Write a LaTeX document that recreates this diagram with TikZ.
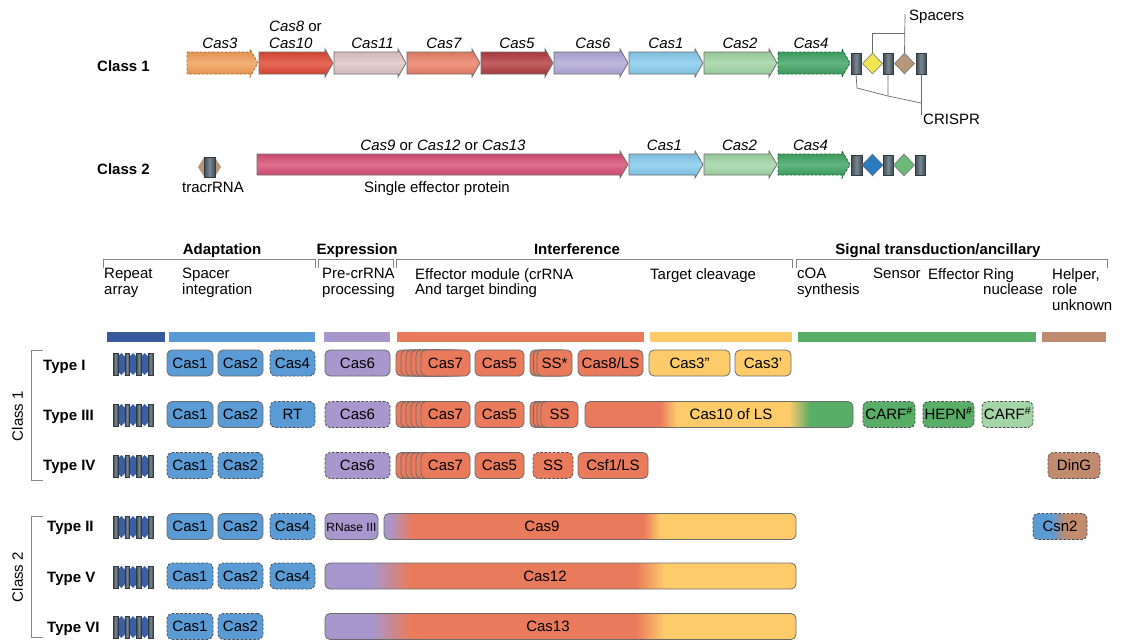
\documentclass[tikz,border=0pt]{standalone}
\usepackage{fontspec}
\setmainfont{Liberation Sans}
\usetikzlibrary{shapes.geometric}
\definecolor{cblue}{HTML}{5B9BD5}
\definecolor{cpurple}{HTML}{A897CC}
\definecolor{corange}{HTML}{E97B5C}
\definecolor{cyellow}{HTML}{FECB6B}
\definecolor{cgreen}{HTML}{58AD67}
\definecolor{clgreen}{HTML}{A5D4A6}
\definecolor{cbrown}{HTML}{C18B6F}
\definecolor{cdkblue}{HTML}{365A9C}
\definecolor{boxline}{HTML}{6B6B6B}
\definecolor{dashline}{HTML}{505050}
\definecolor{brkgray}{HTML}{858585}
\definecolor{leadgray}{HTML}{6A6A6A}
\definecolor{geneline}{HTML}{707070}
\definecolor{crdark}{HTML}{3F4B55}
\definecolor{crlight}{HTML}{7A8892}
\definecolor{crline}{HTML}{2F3A42}
\definecolor{a3}{HTML}{F09A50}
\definecolor{a8}{HTML}{DE3F2A}
\definecolor{a11}{HTML}{DFC2C2}
\definecolor{a7}{HTML}{E8785F}
\definecolor{a5}{HTML}{AE3236}
\definecolor{a6}{HTML}{ADA4D6}
\definecolor{a1}{HTML}{7FC8EC}
\definecolor{a2}{HTML}{9BD29E}
\definecolor{a4}{HTML}{35A05A}
\definecolor{apink}{HTML}{D5456F}
\definecolor{dyellow}{HTML}{F2E64F}
\definecolor{dbrown}{HTML}{B8967A}
\definecolor{dblue}{HTML}{2A7BC0}
\definecolor{dgreen}{HTML}{6DBA78}
\definecolor{hexblue}{HTML}{3A5FA5}
\pgfdeclarehorizontalshading{cas10sh}{100bp}{color(0bp)=(corange); color(39bp)=(corange); color(42bp)=(cyellow); color(63bp)=(cyellow); color(67bp)=(cgreen); color(100bp)=(cgreen)}
\pgfdeclarehorizontalshading{cas9sh}{100bp}{color(0bp)=(cpurple); color(25.5bp)=(cpurple); color(28.5bp)=(corange); color(56.5bp)=(corange); color(58.5bp)=(cyellow); color(100bp)=(cyellow)}
\pgfdeclarehorizontalshading{cas12sh}{100bp}{color(0bp)=(cpurple); color(30bp)=(cpurple); color(34bp)=(corange); color(58bp)=(corange); color(61bp)=(cyellow); color(100bp)=(cyellow)}
\pgfdeclarehorizontalshading{csn2sh}{100bp}{color(0bp)=(cblue); color(42bp)=(cblue); color(55bp)=(cbrown); color(100bp)=(cbrown)}
\newcommand\fs{\fontsize{15}{15.5}\selectfont}
\newcommand\gb[6]{\node[box,#2,minimum width={(#4)-(#3)}] (#1) at ({((#3)+(#4))/2},#5) {#6};}
\newcommand\garrow[6]{%
  \draw[#6] (#2,#4-#5) -- (#3-8,#4-#5) -- (#3-8,#4-#5-3) -- (#3,#4) -- (#3-8,#4+#5+3) -- (#3-8,#4+#5) -- (#2,#4+#5) -- cycle;
  \coordinate (#1) at ({((#2)+(#3))/2},#4);}
\newcommand\rarr[3]{%
  \begin{scope}[shift={(#2,#3)}]
    \foreach \k in {0,1,2}{\fill[hexblue] ({3.5+11.67*\k},-6) -- ({8.33+11.67*\k},-11) -- ({13.17+11.67*\k},-6) -- ({13.17+11.67*\k},6) -- ({8.33+11.67*\k},11) -- ({3.5+11.67*\k},6) -- cycle;}
    \foreach \k in {0,...,3}{\node[cr, minimum width=4.6pt, minimum height=22pt, inner sep=0pt] (#1\k) at ({2.5+11.67*\k},0) {};}
  \end{scope}}
\begin{document}
\begin{tikzpicture}[x=1pt,y=-1pt,
  lab/.style={inner sep=0pt, font=\fs},
  hdr/.style={inner sep=0pt, font=\fs\bfseries},
  box/.style={draw=boxline, line width=0.8pt, rounded corners=5pt, minimum height=26pt, inner sep=0pt, text height=10.7pt, text depth=0pt, font=\fs},
  dsh/.style={draw=dashline, dash pattern=on 2.6pt off 1.6pt},
  gene/.style={draw=geneline, line width=0.8pt, top color=#1!92!black, bottom color=#1!92!black, middle color=#1!78!white},
  brk/.style={draw=brkgray, line width=0.8pt},
  lead/.style={draw=leadgray, line width=0.7pt},
  cr/.style={draw=crline, line width=0.5pt, left color=crdark, right color=crdark, middle color=crlight},
  bar/.style={draw=none, minimum height=10pt, inner sep=0pt},
]
\fill[white] (0,0) rectangle (1127,641);
\useasboundingbox (0,0) rectangle (1127,641);

% ---------- Class 1 locus ----------
\node[hdr, anchor=base west] (cl1) at (97,71) {Class 1};
\garrow{g3}{187}{258}{63}{11}{gene=a3, draw=a3!70!black, dash pattern=on 2.6pt off 1.6pt}
\garrow{g8}{259}{333}{63}{11}{gene=a8}
\garrow{g11}{334}{406}{63}{11}{gene=a11}
\garrow{g7}{407}{480}{63}{11}{gene=a7}
\garrow{g5}{481}{553}{63}{11}{gene=a5}
\garrow{g6}{554}{628}{63}{11}{gene=a6}
\garrow{g1}{629}{703}{63}{11}{gene=a1}
\garrow{g2}{704}{777}{63}{11}{gene=a2}
\garrow{g4}{778}{850}{63}{11}{gene=a4, draw=a4!60!black, dash pattern=on 2.6pt off 1.6pt}
\node[lab, anchor=base] (l3) at (220,48) {\itshape Cas3};
\node[lab, anchor=base west] (l8a) at (269,31) {\itshape Cas8\upshape{} or};
\node[lab, anchor=base west] (l8b) at (269,48) {\itshape Cas10};
\node[lab, anchor=base] (l11) at (372.5,48) {\itshape Cas11};
\node[lab, anchor=base] (l7) at (444,48) {\itshape Cas7};
\node[lab, anchor=base] (l5) at (517,48) {\itshape Cas5};
\node[lab, anchor=base] (l6) at (593,48) {\itshape Cas6};
\node[lab, anchor=base] (l1) at (666,48) {\itshape Cas1};
\node[lab, anchor=base] (l2) at (740,48) {\itshape Cas2};
\node[lab, anchor=base] (l4) at (811,48) {\itshape Cas4};
\node[cr, minimum width=10pt, minimum height=21pt, inner sep=0pt] (r1) at (856,63.5) {};
\node[diamond, draw=leadgray, line width=0.5pt, fill=dyellow, minimum width=20pt, minimum height=21pt, inner sep=0pt] (s1) at (872.5,63.5) {};
\node[cr, minimum width=10pt, minimum height=21pt, inner sep=0pt] (r2) at (888,63.5) {};
\node[diamond, draw=leadgray, line width=0.5pt, fill=dbrown, minimum width=20pt, minimum height=21pt, inner sep=0pt] (s2) at (904.5,63.5) {};
\node[cr, minimum width=10pt, minimum height=21pt, inner sep=0pt] (r3) at (921,63.5) {};
\node[lab, anchor=base west] (spl) at (909,20) {Spacers};
\node[lab, anchor=base west] (crl) at (923,124) {CRISPR};
\draw[lead] (s1.north) -- (s1.north |- 0,33) -- (905,33);
\draw[lead] (s2.north) -- (905,14);
\draw[lead] (r1.south) -- (857,88) -- (888,96);
\draw[lead] (r2.south) -- (888,96) -- (921,103);
\draw[lead] (r3.south) -- (921,115);

% ---------- Class 2 locus ----------
\node[hdr, anchor=base west] (cl2) at (97,174) {Class 2};
\fill[dbrown] (198,167) -- (204,157.5) -- (215,157.5) -- (221,167) -- (215,176.5) -- (204,176.5) -- cycle;
\node[cr, minimum width=11pt, minimum height=20pt, inner sep=0pt] (tr) at (209.5,167) {};
\node[lab, anchor=base] (trl) at (213,192) {tracrRNA};
\garrow{gp}{257}{628}{164.5}{10.5}{gene=apink}
\garrow{h1}{629}{703}{164.5}{10.5}{gene=a1}
\garrow{h2}{704}{777}{164.5}{10.5}{gene=a2}
\garrow{h4}{778}{850}{164.5}{10.5}{gene=a4, draw=a4!60!black, dash pattern=on 2.6pt off 1.6pt}
\node[lab, anchor=base] (lp) at (443,150) {\itshape Cas9\upshape{} or \itshape Cas12\upshape{} or \itshape Cas13};
\node[lab, anchor=base] (lse) at (437,192) {Single effector protein};
\node[lab, anchor=base] (m1) at (664.5,150) {\itshape Cas1};
\node[lab, anchor=base] (m2) at (739.5,150) {\itshape Cas2};
\node[lab, anchor=base] (m4) at (810.5,150) {\itshape Cas4};
\node[cr, minimum width=11pt, minimum height=20pt, inner sep=0pt] (q1) at (856.5,165) {};
\node[diamond, draw=leadgray, line width=0.5pt, fill=dblue, minimum width=21pt, minimum height=22pt, inner sep=0pt] (d1) at (872.5,165) {};
\node[cr, minimum width=10pt, minimum height=20pt, inner sep=0pt] (q2) at (888,165) {};
\node[diamond, draw=leadgray, line width=0.5pt, fill=dgreen, minimum width=21pt, minimum height=22pt, inner sep=0pt] (d2) at (904,165) {};
\node[cr, minimum width=10pt, minimum height=20pt, inner sep=0pt] (q3) at (920,165) {};

% ---------- header ----------
\node[hdr, anchor=base] (hA) at (222,254) {Adaptation};
\node[hdr, anchor=base] (hE) at (357,254) {Expression};
\node[hdr, anchor=base] (hI) at (577,254) {Interference};
\node[hdr, anchor=base] (hS) at (938,254) {Signal transduction/ancillary};
\draw[brk] (103,268) -- (103,259) -- (315,259) -- (315,268);
\draw[brk] (318,268) -- (318,259) -- (393,259) -- (393,268);
\draw[brk] (396,268) -- (396,259) -- (792,259) -- (792,268);
\draw[brk] (796,268) -- (796,259) -- (1107,259) -- (1107,268);
\node[lab, anchor=north west, align=left] (tRA) at (104,268) {Repeat\\array};
\node[lab, anchor=north west, align=left] (tSI) at (182,268) {Spacer\\integration};
\node[lab, anchor=north west, align=left] (tPP) at (322,268) {Pre-crRNA\\processing};
\node[lab, anchor=north west, align=left] (tEM) at (415,268) {Effector module (crRNA\\And target binding};
\node[lab, anchor=north west, align=left] (tTC) at (650,268) {Target cleavage};
\node[lab, anchor=north west, align=left] (tCO) at (797,268) {cOA\\synthesis};
\node[lab, anchor=north west, align=left] (tSE) at (873,268) {Sensor};
\node[lab, anchor=north west, align=left] (tEF) at (928,268) {Effector};
\node[lab, anchor=north west, align=left] (tRN) at (983,268) {Ring\\nuclease};
\node[lab, anchor=north west, align=left] (tHE) at (1052,268) {Helper,\\role\\unknown};
\node[bar, fill=cdkblue, minimum width=58pt] (b1) at (136,337) {};
\node[bar, fill=cblue, minimum width=146pt] (b2) at (242,337) {};
\node[bar, fill=cpurple, minimum width=66pt] (b3) at (357,337) {};
\node[bar, fill=corange, minimum width=247pt] (b4) at (520.5,337) {};
\node[bar, fill=cyellow, minimum width=142pt] (b5) at (721,337) {};
\node[bar, fill=cgreen, minimum width=238pt] (b6) at (917,337) {};
\node[bar, fill=cbrown, minimum width=64pt] (b7) at (1074,337) {};

% ---------- class brackets ----------
\draw[brk] (43,350) -- (31,350) -- (31,480) -- (43,480);
\node[lab, rotate=90] (c1l) at (17.5,416) {Class 1};
\draw[brk] (43,516) -- (31,516) -- (31,637) -- (43,637);
\node[lab, rotate=90] (c2l) at (17.5,577) {Class 2};

% ---------- Type I ----------
\node[hdr, anchor=base west] (ty1) at (43,370) {Type I};
\rarr{ra1}{113}{364}
\gb{t1c1}{fill=cblue}{167}{213}{363}{Cas1}
\gb{t1c2}{fill=cblue}{218}{263}{363}{Cas2}
\gb{t1c4}{fill=cblue,dsh}{270}{315}{363}{Cas4}
\gb{t1c6}{fill=cpurple}{325}{390}{363}{Cas6}
\foreach \i in {0,...,4}{\gb{t1s\i}{fill=corange}{396+5*\i}{445+5*\i}{363}{}}
\gb{t1c7}{fill=corange}{421}{470}{363}{Cas7}
\gb{t1c5}{fill=corange}{475}{524}{363}{Cas5}
\gb{t1sa}{fill=corange}{530}{565}{363}{}
\gb{t1sb}{fill=corange}{533.5}{568.5}{363}{}
\gb{t1ss}{fill=corange}{537}{572}{363}{SS*}
\gb{t1c8}{fill=corange}{578}{643}{363}{Cas8/LS}
\gb{t1c3a}{fill=cyellow}{649}{730}{363}{Cas3''}
\gb{t1c3b}{fill=cyellow}{735}{791}{363}{Cas3'}

% ---------- Type III ----------
\node[hdr, anchor=base west] (ty3) at (43,420.5) {Type III};
\rarr{ra3}{113}{415}
\gb{t3c1}{fill=cblue}{167}{213}{414.5}{Cas1}
\gb{t3c2}{fill=cblue}{218}{263}{414.5}{Cas2}
\gb{t3rt}{fill=cblue,dsh}{270}{315}{414.5}{RT}
\gb{t3c6}{fill=cpurple,dsh}{325}{390}{414.5}{Cas6}
\foreach \i in {0,...,4}{\gb{t3s\i}{fill=corange}{396+5*\i}{445+5*\i}{414.5}{}}
\gb{t3c7}{fill=corange}{421}{470}{414.5}{Cas7}
\gb{t3c5}{fill=corange}{475}{524}{414.5}{Cas5}
\gb{t3sa}{fill=corange}{530}{567}{414.5}{}
\gb{t3sb}{fill=corange}{533.5}{570.5}{414.5}{}
\gb{t3sc}{fill=corange}{537}{574}{414.5}{}
\gb{t3ss}{fill=corange}{541}{578}{414.5}{SS}
\gb{t3c10}{shading=cas10sh}{585}{853}{414.5}{}
\node[lab] (t3c10l) at (731,414.5) {\vphantom{C}Cas10 of LS};
\gb{t3cf1}{fill=cgreen,dsh}{863}{915}{414.5}{CARF\textsuperscript{\#}}
\gb{t3hp}{fill=cgreen,dsh}{923}{974}{414.5}{HEPN\textsuperscript{\#}}
\gb{t3cf2}{fill=clgreen,dsh}{982}{1033}{414.5}{CARF\textsuperscript{\#}}

% ---------- Type IV ----------
\node[hdr, anchor=base west] (ty4) at (43,470.5) {Type IV};
\rarr{ra4}{113}{466}
\gb{t4c1}{fill=cblue,dsh}{167}{213}{465.5}{Cas1}
\gb{t4c2}{fill=cblue,dsh}{218}{263}{465.5}{Cas2}
\gb{t4c6}{fill=cpurple,dsh}{325}{390}{465.5}{Cas6}
\foreach \i in {0,...,4}{\gb{t4s\i}{fill=corange}{396+5*\i}{445+5*\i}{465.5}{}}
\gb{t4c7}{fill=corange}{421}{470}{465.5}{Cas7}
\gb{t4c5}{fill=corange}{475}{524}{465.5}{Cas5}
\gb{t4ss}{fill=corange,dsh}{533}{573}{465.5}{SS}
\gb{t4cs}{fill=corange}{578}{648}{465.5}{Csf1/LS}
\gb{t4dg}{fill=cbrown,dsh}{1048}{1100}{465.5}{DinG}

% ---------- Type II ----------
\node[hdr, anchor=base west] (ty2) at (47,531.5) {Type II};
\rarr{ra2}{113}{527}
\gb{t2c1}{fill=cblue}{167}{213}{526.5}{Cas1}
\gb{t2c2}{fill=cblue}{218}{263}{526.5}{Cas2}
\gb{t2c4}{fill=cblue,dsh}{270}{315}{526.5}{Cas4}
\gb{t2rn}{fill=cpurple,font=\fontsize{12}{13}\selectfont}{325}{378}{526.5}{RNase III}
\gb{t2c9}{shading=cas9sh}{384}{796}{526.5}{}
\node[lab] (t2c9l) at (542,526.5) {\vphantom{C}Cas9};
\gb{t2cn}{shading=csn2sh,dsh}{1033}{1087}{526.5}{Csn2}

% ---------- Type V ----------
\node[hdr, anchor=base west] (ty5) at (47,582) {Type V};
\rarr{ra5}{113}{577}
\gb{t5c1}{fill=cblue,dsh}{167}{213}{576}{Cas1}
\gb{t5c2}{fill=cblue,dsh}{218}{263}{576}{Cas2}
\gb{t5c4}{fill=cblue,dsh}{270}{315}{576}{Cas4}
\gb{t5c12}{shading=cas12sh}{325}{796}{576}{}
\node[lab] (t5c12l) at (545,576) {\vphantom{C}Cas12};

% ---------- Type VI ----------
\node[hdr, anchor=base west] (ty6) at (47,632) {Type VI};
\rarr{ra6}{113}{627}
\gb{t6c1}{fill=cblue,dsh}{167}{213}{626.5}{Cas1}
\gb{t6c2}{fill=cblue,dsh}{218}{263}{626.5}{Cas2}
\gb{t6c13}{shading=cas12sh}{325}{796}{626.5}{}
\node[lab] (t6c13l) at (548,626.5) {\vphantom{C}Cas13};
\end{tikzpicture}
\end{document}
